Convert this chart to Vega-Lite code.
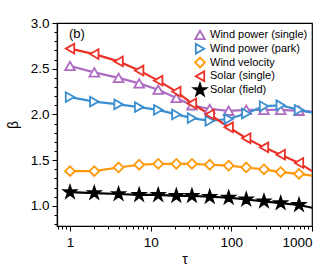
{
  "$schema": "https://vega.github.io/schema/vega-lite/v6.json",
  "width": 255,
  "height": 203,
  "autosize": "none",
  "padding": {"left": 57, "top": 23, "right": 20, "bottom": 45},
  "config": {
    "view": {"stroke": "black", "strokeWidth": 1.2},
    "font": "Liberation Sans",
    "axis": {"grid": false, "domainColor": "black", "tickColor": "black", "labelColor": "black", "titleColor": "black", "labelFontSize": 13.5, "titleFontSize": 14, "titleFontWeight": "normal", "domainWidth": 1.2, "tickWidth": 1}
  },
  "datasets": {
    "curves": [
      {"series": "Wind power (single)", "tau": 1, "beta": 2.53},
      {"series": "Wind power (single)", "tau": 2, "beta": 2.46},
      {"series": "Wind power (single)", "tau": 4, "beta": 2.40},
      {"series": "Wind power (single)", "tau": 7.2, "beta": 2.34},
      {"series": "Wind power (single)", "tau": 12.4, "beta": 2.27},
      {"series": "Wind power (single)", "tau": 20.8, "beta": 2.18},
      {"series": "Wind power (single)", "tau": 32.5, "beta": 2.10},
      {"series": "Wind power (single)", "tau": 54, "beta": 2.06},
      {"series": "Wind power (single)", "tau": 92.7, "beta": 2.04},
      {"series": "Wind power (single)", "tau": 153, "beta": 2.05},
      {"series": "Wind power (single)", "tau": 254, "beta": 2.05},
      {"series": "Wind power (single)", "tau": 409, "beta": 2.05},
      {"series": "Wind power (single)", "tau": 690, "beta": 2.04},
      {"series": "Wind power (single)", "tau": 1000, "beta": 2.03},
      {"series": "Wind power (park)", "tau": 1, "beta": 2.19},
      {"series": "Wind power (park)", "tau": 2, "beta": 2.14},
      {"series": "Wind power (park)", "tau": 4, "beta": 2.11},
      {"series": "Wind power (park)", "tau": 7.2, "beta": 2.08},
      {"series": "Wind power (park)", "tau": 12.4, "beta": 2.05},
      {"series": "Wind power (park)", "tau": 20.8, "beta": 2.00},
      {"series": "Wind power (park)", "tau": 32.5, "beta": 1.96},
      {"series": "Wind power (park)", "tau": 54, "beta": 1.93},
      {"series": "Wind power (park)", "tau": 92.7, "beta": 1.95},
      {"series": "Wind power (park)", "tau": 153, "beta": 2.01},
      {"series": "Wind power (park)", "tau": 254, "beta": 2.09},
      {"series": "Wind power (park)", "tau": 409, "beta": 2.10},
      {"series": "Wind power (park)", "tau": 690, "beta": 2.05},
      {"series": "Wind power (park)", "tau": 1000, "beta": 2.02},
      {"series": "Wind velocity", "tau": 1, "beta": 1.38},
      {"series": "Wind velocity", "tau": 2, "beta": 1.38},
      {"series": "Wind velocity", "tau": 4, "beta": 1.42},
      {"series": "Wind velocity", "tau": 7.2, "beta": 1.45},
      {"series": "Wind velocity", "tau": 12.4, "beta": 1.46},
      {"series": "Wind velocity", "tau": 20.8, "beta": 1.46},
      {"series": "Wind velocity", "tau": 32.5, "beta": 1.46},
      {"series": "Wind velocity", "tau": 54, "beta": 1.45},
      {"series": "Wind velocity", "tau": 92.7, "beta": 1.44},
      {"series": "Wind velocity", "tau": 153, "beta": 1.42},
      {"series": "Wind velocity", "tau": 254, "beta": 1.40},
      {"series": "Wind velocity", "tau": 409, "beta": 1.37},
      {"series": "Wind velocity", "tau": 690, "beta": 1.35},
      {"series": "Wind velocity", "tau": 1000, "beta": 1.33},
      {"series": "Solar (single)", "tau": 1, "beta": 2.72},
      {"series": "Solar (single)", "tau": 2, "beta": 2.66},
      {"series": "Solar (single)", "tau": 4, "beta": 2.58},
      {"series": "Solar (single)", "tau": 7.2, "beta": 2.48},
      {"series": "Solar (single)", "tau": 12.4, "beta": 2.37},
      {"series": "Solar (single)", "tau": 20.8, "beta": 2.25},
      {"series": "Solar (single)", "tau": 32.5, "beta": 2.12},
      {"series": "Solar (single)", "tau": 54, "beta": 2.00},
      {"series": "Solar (single)", "tau": 92.7, "beta": 1.86},
      {"series": "Solar (single)", "tau": 153, "beta": 1.74},
      {"series": "Solar (single)", "tau": 254, "beta": 1.64},
      {"series": "Solar (single)", "tau": 409, "beta": 1.56},
      {"series": "Solar (single)", "tau": 690, "beta": 1.47},
      {"series": "Solar (single)", "tau": 1000, "beta": 1.38},
      {"series": "Solar (field)", "tau": 1, "beta": 1.15},
      {"series": "Solar (field)", "tau": 2, "beta": 1.14},
      {"series": "Solar (field)", "tau": 4, "beta": 1.13},
      {"series": "Solar (field)", "tau": 7.2, "beta": 1.12},
      {"series": "Solar (field)", "tau": 12.4, "beta": 1.12},
      {"series": "Solar (field)", "tau": 20.8, "beta": 1.11},
      {"series": "Solar (field)", "tau": 32.5, "beta": 1.11},
      {"series": "Solar (field)", "tau": 54, "beta": 1.10},
      {"series": "Solar (field)", "tau": 92.7, "beta": 1.09},
      {"series": "Solar (field)", "tau": 153, "beta": 1.07},
      {"series": "Solar (field)", "tau": 254, "beta": 1.05},
      {"series": "Solar (field)", "tau": 409, "beta": 1.03},
      {"series": "Solar (field)", "tau": 690, "beta": 1.01},
      {"series": "Solar (field)", "tau": 1000, "beta": 0.98}
    ],
    "names": [
      {"series": "Wind power (single)"},
      {"series": "Wind power (park)"},
      {"series": "Wind velocity"},
      {"series": "Solar (single)"},
      {"series": "Solar (field)"}
    ]
  },
  "resolve": {"scale": {"y": "independent"}, "axis": {"y": "independent", "x": "independent"}},
  "layer": [
    {
      "data": {"name": "curves"},
      "resolve": {"axis": {"x": "independent", "y": "independent"}},
      "layer": [
        {
          "mark": {"type": "line", "strokeWidth": 2.2},
          "encoding": {
            "x": {"field": "tau", "type": "quantitative", "scale": {"type": "log", "domain": [0.69, 1000], "nice": false},
                  "axis": {"orient": "bottom", "values": [1, 10, 100, 1000], "format": "d", "tickSize": 5, "labelPadding": 4, "title": "τ", "titlePadding": 4}},
            "y": {"field": "beta", "type": "quantitative", "scale": {"domain": [0.78, 3.0], "nice": false, "zero": false},
                  "axis": {"orient": "left", "values": [1, 1.5, 2, 2.5, 3], "format": ".1f", "tickSize": 5, "labelPadding": 3, "title": "β", "titlePadding": 10}},
            "stroke": {"field": "series", "type": "nominal",
                       "scale": {"domain": ["Wind power (single)", "Wind power (park)", "Wind velocity", "Solar (single)", "Solar (field)"],
                                 "range": ["#ad6cc2", "#3b8fd0", "#ff990a", "#ec3228", "#000000"]},
                       "legend": null}
          }
        },
        {
          "transform": [{"filter": "datum.tau < 1000"}],
          "mark": {"type": "point", "filled": true, "strokeWidth": 1.8, "opacity": 1, "size": 95},
          "encoding": {
            "x": {"field": "tau", "type": "quantitative",
                  "axis": {"orient": "bottom", "values": [0.7, 0.8, 0.9, 2, 3, 4, 5, 6, 7, 8, 9, 20, 30, 40, 50, 60, 70, 80, 90, 200, 300, 400, 500, 600, 700, 800, 900], "tickSize": 3, "labels": false, "domain": false, "title": null}},
            "y": {"field": "beta", "type": "quantitative",
                  "axis": {"orient": "left", "values": [0.8, 0.9, 1.1, 1.2, 1.3, 1.4, 1.6, 1.7, 1.8, 1.9, 2.1, 2.2, 2.3, 2.4, 2.6, 2.7, 2.8, 2.9], "tickSize": 3, "labels": false, "domain": false, "title": null}},
            "stroke": {"field": "series", "type": "nominal", "legend": null},
            "fill": {"field": "series", "type": "nominal", "legend": null,
                     "scale": {"domain": ["Wind power (single)", "Wind power (park)", "Wind velocity", "Solar (single)", "Solar (field)"],
                               "range": ["white", "white", "white", "white", "black"]}},
            "shape": {"field": "series", "type": "nominal", "legend": null,
                      "scale": {"domain": ["Wind power (single)", "Wind power (park)", "Wind velocity", "Solar (single)", "Solar (field)"],
                                "range": ["triangle-up", "triangle-right", "diamond", "triangle-left", "M0,-1.3L0.2919,-0.4017L1.2364,-0.4017L0.4723,0.1534L0.7641,1.0517L0,0.4966L-0.7641,1.0517L-0.4723,0.1534L-1.2364,-0.4017L-0.2919,-0.4017Z"]}}
          }
        },
        {
          "data": {"values": [{}]},
          "mark": {"type": "text", "fontSize": 13, "align": "center", "baseline": "middle", "color": "black"},
          "encoding": {
            "x": {"datum": 1.22, "axis": null},
            "y": {"datum": 2.88, "axis": null},
            "text": {"value": "(b)"}
          }
        }
      ]
    },
    {
      "data": {"name": "names"},
      "layer": [
        {
          "mark": {"type": "point", "filled": true, "strokeWidth": 1.8, "opacity": 1, "size": 95},
          "encoding": {
            "x": {"datum": 40.9, "axis": null},
            "y": {"field": "series", "type": "nominal", "axis": null,
                  "scale": {"type": "point", "domain": ["Wind power (single)", "Wind power (park)", "Wind velocity", "Solar (single)", "Solar (field)"], "range": [12, 67], "padding": 0}},
            "stroke": {"field": "series", "type": "nominal", "legend": null},
            "fill": {"field": "series", "type": "nominal", "legend": null},
            "shape": {"field": "series", "type": "nominal", "legend": null}
          }
        },
        {
          "mark": {"type": "text", "fontSize": 11, "align": "left", "baseline": "middle", "color": "black"},
          "encoding": {
            "x": {"datum": 54.4, "axis": null},
            "y": {"field": "series", "type": "nominal", "axis": null},
            "text": {"field": "series"}
          }
        }
      ]
    }
  ]
}
